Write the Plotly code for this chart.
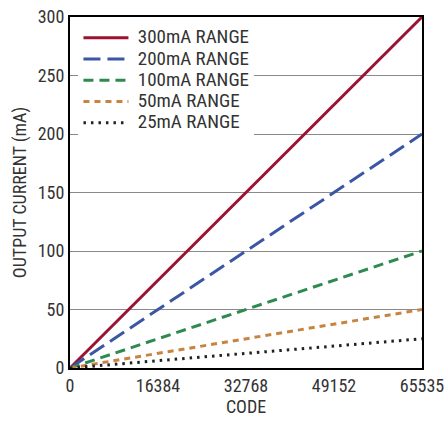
import plotly.graph_objects as go

codes = [0, 65535]
series_names = ["300mA RANGE", "200mA RANGE", "100mA RANGE", "50mA RANGE", "25mA RANGE"]
full_scale = [300, 200, 100, 50, 25]
colors = ["#9b1232", "#3a56a5", "#2e8a4e", "#c7833f", "#222222"]
dashes = ["solid", "17px,7px", "10px,6px", "6px,5px", "2.5px,5px"]
x_ticks = [0, 16384, 32768, 49152, 65535]
y_ticks = [0, 50, 100, 150, 200, 250, 300]

FONT = "Roboto Condensed, Liberation Sans Narrow, Arial Narrow, Liberation Sans, sans-serif"

fig = go.Figure()
for name, fs, c, d in zip(series_names, full_scale, colors, dashes):
    fig.add_trace(go.Scatter(x=codes, y=[0, fs], mode="lines",
                             name='<span style="font-size:19px"> ' + name + '</span>',
                             line=dict(color=c, width=3, dash=d)))

fig.update_layout(
    width=446, height=421,
    margin=dict(l=70, r=24, t=17, b=53),
    paper_bgcolor="white", plot_bgcolor="white",
    font=dict(family=FONT, size=18, color="#333333"),
    showlegend=True,
    legend=dict(x=0.024, y=0.985, xanchor="left", yanchor="top",
                bgcolor="white", borderwidth=0,
                font=dict(family=FONT, size=14, color="#333333"),
                tracegroupgap=0, itemwidth=45),
    xaxis=dict(range=[0, 65535], tickvals=x_ticks, ticktext=[str(v) for v in x_ticks],
               showgrid=False, zeroline=False, showline=True, linecolor="black",
               linewidth=2, mirror=True, ticks="", automargin=False,
               title=dict(text="CODE", font=dict(size=18), standoff=4)),
    yaxis=dict(range=[0, 300], tickvals=y_ticks, showgrid=True, gridcolor="#8a8a8a",
               gridwidth=1, zeroline=False, showline=True, linecolor="black",
               linewidth=2, mirror=True, ticks="", automargin=False,
               title=dict(text="OUTPUT CURRENT (mA)", font=dict(size=18), standoff=6)),
)

fig.write_html("out.html", config={"displayModeBar": False},
               post_script="document.body.style.margin='0';document.body.style.padding='0';")
